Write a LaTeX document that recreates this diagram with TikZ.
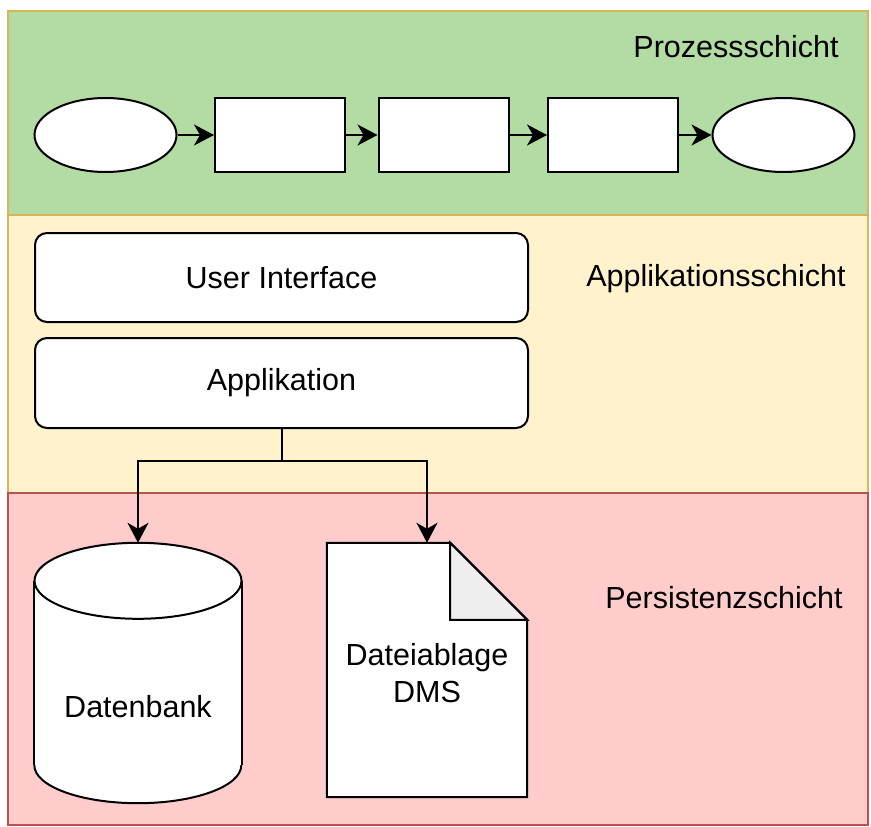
\documentclass[tikz,border=0pt]{standalone}
\usepackage{fontspec}
\setmainfont{Liberation Sans}
\usepackage{tikz}
\usetikzlibrary{positioning, shapes.geometric, arrows.meta, calc}
\usepackage{xcolor}

\definecolor{procfill}{RGB}{179,219,164}
\definecolor{appfill}{RGB}{255,242,204}
\definecolor{persfill}{RGB}{255,204,204}
\definecolor{goldline}{RGB}{214,182,86}
\definecolor{redline}{RGB}{184,84,80}
\definecolor{foldgray}{RGB}{238,238,238}

\begin{document}
\begin{tikzpicture}[x=1pt, y=-1pt,
    lbl/.style={font=\fontsize{30.5}{37}\selectfont},
    event/.style={ellipse, draw, line width=2pt, fill=white, minimum width=142pt, minimum height=74pt, inner sep=0pt},
    task/.style={rectangle, draw, line width=2pt, fill=white, minimum width=130pt, minimum height=74pt, inner sep=0pt},
    block/.style={rectangle, rounded corners=12pt, draw, line width=2pt, fill=white, minimum width=493pt, minimum height=89pt, lbl},
    flow/.style={line width=2pt, -{Stealth[length=20pt, width=21pt, inset=6pt]}}]
            \useasboundingbox (0,0) rectangle (871,827);

            \filldraw[fill=procfill, draw=goldline, line width=2pt] (8,11) rectangle (868,215);
            \filldraw[fill=appfill, draw=goldline, line width=2pt] (8,215) rectangle (868,493);
            \filldraw[fill=persfill, draw=redline, line width=2pt] (8,493) rectangle (868,825);

            \node[lbl] (prozess) at (736,47) {Prozessschicht};
            \node[lbl] (applik) at (716,279) {Applikationsschicht};
            \node[lbl] (persist) at (724,598) {Persistenzschicht};

            \node[event] (start) at (105.5,135) {};
            \node[task] (t1) at (280,135) {};
            \node[task] (t2) at (443.5,135) {};
            \node[task] (t3) at (613,135) {};
            \node[event] (end) at (783.5,135) {};
            \draw[flow] (start) -- (t1);
            \draw[flow] (t1) -- (t2);
            \draw[flow] (t2) -- (t3);
            \draw[flow] (t3) -- (end);

            \node[block] (ui) at (281.5,277.5) {User Interface};
            \node[block, minimum height=90pt] (app) at (281.5,383) {Applikation};

            \node[minimum width=207pt, minimum height=260pt, inner sep=0pt] (db) at (138,673) {};
            \coordinate (dbtl) at ($(db.north west)+(0,38)$);
            \coordinate (dbtr) at ($(db.north east)+(0,38)$);
            \coordinate (dbbl) at ($(db.south west)+(0,-38)$);
            \coordinate (dbbr) at ($(db.south east)+(0,-38)$);
            \fill[white] (dbtl) -- (dbbl) arc[start angle=180, end angle=360, x radius=103.5pt, y radius=38pt]
                -- (dbtr) arc[start angle=0, end angle=180, x radius=103.5pt, y radius=38pt] -- cycle;
            \draw[line width=2pt] ($(db.north)+(0,38)$) ellipse[x radius=103.5pt, y radius=38pt];
            \draw[line width=2pt] (dbtl) -- (dbbl);
            \draw[line width=2pt] (dbtr) -- (dbbr);
            \draw[line width=2pt] (dbbl) arc[start angle=180, end angle=360, x radius=103.5pt, y radius=38pt];
            \node[lbl] (dblabel) at ($(db.center)+(0,34)$) {Datenbank};

            \node[minimum width=200pt, minimum height=254pt, inner sep=0pt] (dms) at (427,670) {};
            \filldraw[fill=white, line width=2pt, line join=miter] (dms.north west) -- ($(dms.north east)+(-77,0)$)
                -- ($(dms.north east)+(0,77)$) -- (dms.south east) -- (dms.south west) -- cycle;
            \filldraw[fill=foldgray, line width=2pt] ($(dms.north east)+(-77,0)$) -- ($(dms.north east)+(-77,77)$)
                -- ($(dms.north east)+(0,77)$) -- cycle;
            \node[lbl, align=center] (dmstext) at ($(dms.center)+(0,3)$) {Dateiablage\\DMS};

            \draw[flow] (app.south) -- ++(0,32) -| (db.north);
            \draw[flow] (app.south) -- ++(0,32) -| (dms.north);
        \end{tikzpicture}
\end{document}
